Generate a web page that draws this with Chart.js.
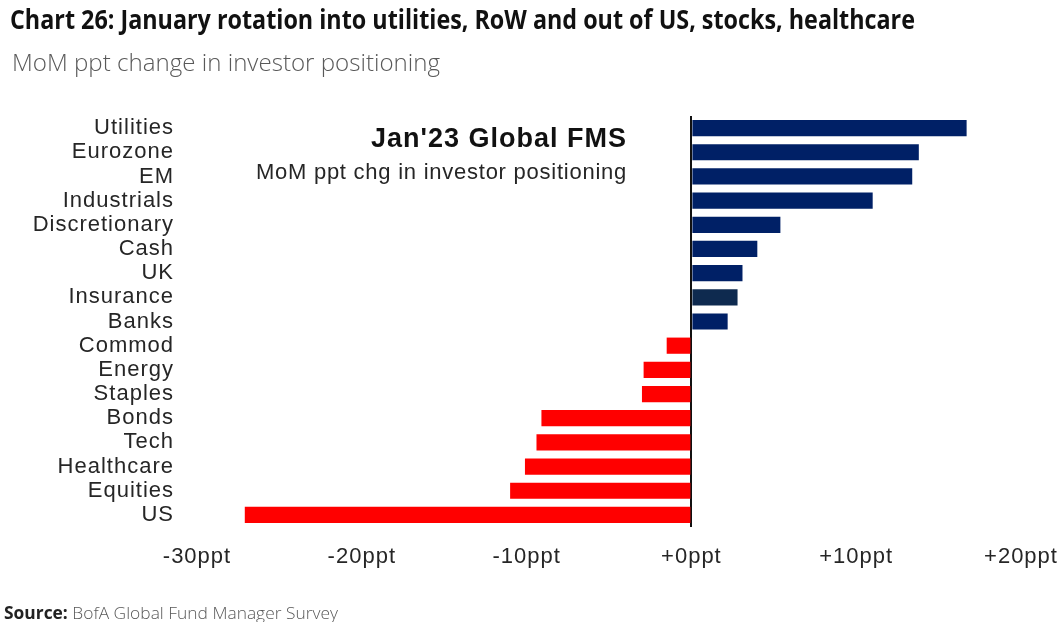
<!DOCTYPE html>
<html>
<head>
<meta charset="utf-8">
<script src="https://cdn.jsdelivr.net/npm/chart.js@4.4.1/dist/chart.umd.min.js"></script>
<style>
  html, body { margin: 0; padding: 0; background: #fff; }
  body { width: 1060px; height: 622px; position: relative; overflow: hidden; }
  .txt { position: absolute; white-space: nowrap; line-height: 1; transform-origin: left top; }
  #title { left: 10px; top: 6px; font-family: "Open Sans", sans-serif; font-weight: 700; font-size: 26px; color: #111; }
  #subtitle { left: 12px; top: 50px; font-family: "Open Sans", sans-serif; font-weight: 300; font-size: 24px; color: #595959; }
  #source { left: 4px; top: 604px; font-family: "Open Sans", sans-serif; font-weight: 300; font-size: 17px; color: #595959; }
  #source b { font-weight: 700; color: #222; }
  .ann { position: absolute; right: 433px; white-space: nowrap; line-height: 1; text-align: right;
         font-family: "Liberation Sans", Arial, sans-serif; color: #111; }
  #ann1 { top: 125px; font-size: 27px; font-weight: 700; letter-spacing: 1px; }
  #ann2 { top: 161px; font-size: 22px; color: #262626; letter-spacing: 0.75px; }
  #c { position: absolute; left: 0; top: 0; }
</style>
</head>
<body>
<canvas id="c" width="1060" height="622"></canvas>
<div id="title" class="txt" data-w="905">Chart 26: January rotation into utilities, RoW and out of US, stocks, healthcare</div>
<div id="subtitle" class="txt" data-w="428">MoM ppt change in investor positioning</div>
<div id="ann1" class="ann">Jan'23 Global FMS</div>
<div id="ann2" class="ann">MoM ppt chg in investor positioning</div>
<div id="source" class="txt" data-w="334"><b>Source:</b> BofA Global Fund Manager Survey</div>
<script>
// ---- data ----
const categories = ['Utilities','Eurozone','EM','Industrials','Discretionary','Cash','UK','Insurance','Banks',
                    'Commod','Energy','Staples','Bonds','Tech','Healthcare','Equities','US'];
const values = [16.7, 13.8, 13.4, 11.0, 5.4, 4.0, 3.1, 2.8, 2.2,
                -1.5, -2.9, -3.0, -9.1, -9.4, -10.1, -11.0, -27.1];
const tickValues = [-30, -20, -10, 0, 10, 20];
const highlighted = 'Insurance';

// ---- styles ----
const NAVY = '#002066';
const NAVY_DARK = '#0E2A4F';
const RED = '#FF0000';

// fit header/footer text widths
document.querySelectorAll('.txt[data-w]').forEach(el => {
  const w = el.getBoundingClientRect().width;
  const target = parseFloat(el.dataset.w);
  el.style.transform = 'scaleX(' + (target / w) + ')';
});

const spacingPlugin = {
  id: 'spacing',
  beforeDraw(chart) { chart.ctx.letterSpacing = '1px'; },
  afterDraw(chart) { chart.ctx.letterSpacing = '0px'; }
};

new Chart(document.getElementById('c'), {
  type: 'bar',
  data: {
    labels: categories,
    datasets: [{
      data: values,
      backgroundColor: values.map((v, i) => categories[i] === highlighted ? NAVY_DARK : (v >= 0 ? NAVY : RED)),
      borderWidth: 0,
      categoryPercentage: 1.0,
      barPercentage: 0.67
    }]
  },
  options: {
    indexAxis: 'y',
    responsive: false,
    animation: false,
    layout: { padding: { top: 116, right: 39, bottom: 0, left: 0 } },
    plugins: { legend: { display: false }, tooltip: { enabled: false }, title: { display: false } },
    scales: {
      x: {
        type: 'linear',
        min: tickValues[0],
        max: tickValues[tickValues.length - 1],
        afterBuildTicks(scale) { scale.ticks = tickValues.map(v => ({ value: v })); },
        afterFit(scale) { scale.height = 95; scale.paddingLeft = 0; scale.paddingRight = 0; },
        ticks: {
          padding: 17,
          color: '#262626',
          font: { family: '"Liberation Sans", Arial, sans-serif', size: 22 },
          callback: v => (v >= 0 ? '+' : '') + v + 'ppt'
        },
        grid: {
          drawTicks: false,
          color: c => (c.tick && c.tick.value === 0) ? '#111111' : 'rgba(0,0,0,0)',
          lineWidth: 2
        },
        border: { display: false }
      },
      y: {
        afterFit(scale) { scale.width = 197; },
        ticks: {
          padding: 23,
          color: '#262626',
          font: { family: '"Liberation Sans", Arial, sans-serif', size: 22 },
          autoSkip: false
        },
        grid: { display: false, drawTicks: false },
        border: { display: false }
      }
    }
  },
  plugins: [spacingPlugin]
});
</script>
</body>
</html>
